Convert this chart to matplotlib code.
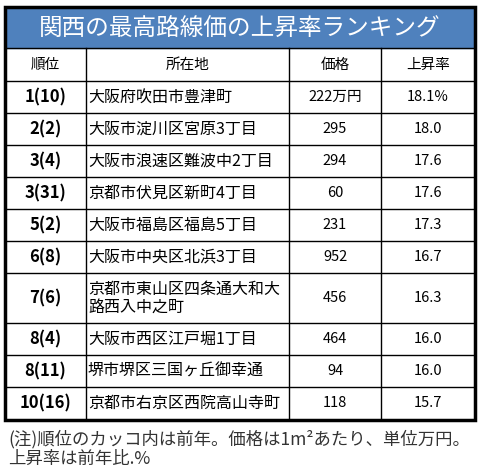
import matplotlib.pyplot as plt
from matplotlib.patches import Rectangle

plt.rcParams['font.family'] = ['Noto Sans CJK JP', 'DejaVu Sans']

title = '関西の最高路線価の上昇率ランキング'
headers = ['順位', '所在地', '価格', '上昇率']
ranks = ['1(10)', '2(2)', '3(4)', '3(31)', '5(2)', '6(8)', '7(6)', '8(4)', '8(11)', '10(16)']
places = ['大阪府吹田市豊津町', '大阪市淀川区宮原3丁目', '大阪市浪速区難波中2丁目',
          '京都市伏見区新町4丁目', '大阪市福島区福島5丁目', '大阪市中央区北浜3丁目',
          '京都市東山区四条通大和大\n路西入中之町', '大阪市西区江戸堀1丁目',
          '堺市堺区三国ヶ丘御幸通', '京都市右京区西院高山寺町']
prices = ['222万円', '295', '294', '60', '231', '952', '456', '464', '94', '118']
rates = ['18.1%', '18.0', '17.6', '17.6', '17.3', '16.7', '16.3', '16.0', '16.0', '15.7']
note = '(注)順位のカッコ内は前年。価格は1m²あたり、単位万円。\n上昇率は前年比.%'

fig = plt.figure(figsize=(4.83, 4.75), dpi=100)
ax = fig.add_axes([0, 0, 1, 1])
ax.set_xlim(0, 483)
ax.set_ylim(475, 0)
ax.axis('off')

L, R, TOP, BOT = 5, 475, 7, 420
cols = [L, 86, 289, 381, R]
row_h = [32] * 10
row_h[6] = 50
ys = [48, 81]
for h in row_h:
    ys.append(ys[-1] + h)

ax.add_patch(Rectangle((L, TOP), R - L, 48 - TOP, color='#4F81BD', zorder=1))
ax.text((L + R) / 2, 28, title, color='white', fontsize=17, ha='center', va='center')

for y in ys[1:-1]:
    ax.plot([L, R], [y, y], color='black', lw=1)
ax.plot([L, R], [48, 48], color='black', lw=1)
for x in cols[1:-1]:
    ax.plot([x, x], [48, BOT], color='black', lw=1)
ax.add_patch(Rectangle((L, TOP), R - L, BOT - TOP, fill=False, ec='black', lw=2.5, zorder=3))

cx = [(cols[i] + cols[i + 1]) / 2 for i in range(4)]
for i, h in enumerate(headers):
    ax.text(cx[i], 64.5, h, fontsize=10.5, ha='center', va='center')

for i in range(len(ranks)):
    yc = (ys[i + 1] + ys[i + 2]) / 2
    ax.text(cx[0], yc, ranks[i], fontsize=12, fontweight='semibold', ha='center', va='center')
    ax.text(cols[1] + 2, yc, places[i], fontsize=11.5, ha='left', va='center', linespacing=1.05)
    ax.text(cx[2], yc, prices[i], fontsize=10.5, ha='center', va='center')
    ax.text(cx[3], yc, rates[i], fontsize=10.5, ha='center', va='center')

ax.text(8, 449, note, fontsize=12.5, color='#333333', ha='left', va='center', linespacing=1.15)

fig.savefig('out.png', dpi=100)
